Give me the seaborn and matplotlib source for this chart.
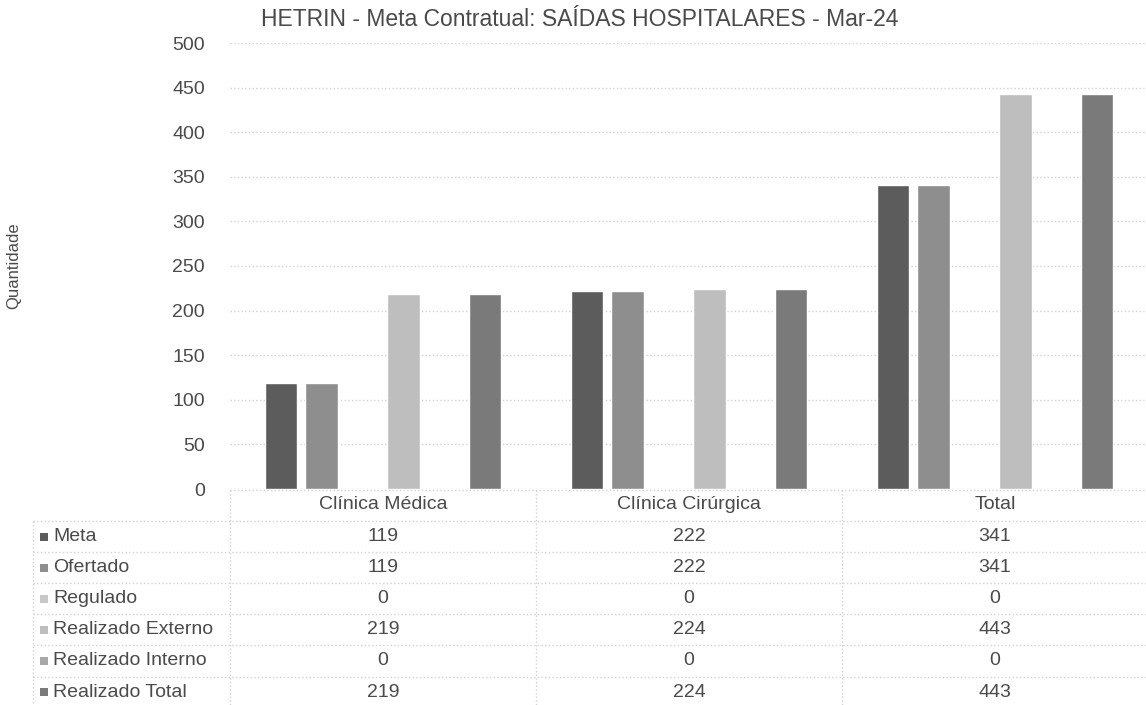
import matplotlib
matplotlib.use("Agg")
import matplotlib.pyplot as plt
from matplotlib.lines import Line2D
from matplotlib.patches import Rectangle
import seaborn as sns
import pandas as pd

categories = ["Clínica Médica", "Clínica Cirúrgica", "Total"]
series = ["Meta", "Ofertado", "Regulado", "Realizado Externo", "Realizado Interno", "Realizado Total"]
meta = [119, 222, 341]
ofertado = [119, 222, 341]
regulado = [0, 0, 0]
realizado_externo = [219, 224, 443]
realizado_interno = [0, 0, 0]
realizado_total = [219, 224, 443]
yticks = list(range(0, 501, 50))
title = "HETRIN - Meta Contratual: SAÍDAS HOSPITALARES - Mar-24"
ylabel = "Quantidade"

colors = ["#5c5c5c", "#8e8e8e", "#c8c8c8", "#bebebe", "#a8a8a8", "#7a7a7a"]
values = [meta, ofertado, regulado, realizado_externo, realizado_interno, realizado_total]

rows = []
for s, vals in zip(series, values):
    for c, v in zip(categories, vals):
        rows.append({"cat": c, "serie": s, "val": v})
df = pd.DataFrame(rows)

sns.set_style("white")
plt.rcParams["font.family"] = ["Liberation Sans", "DejaVu Sans"]
TXT = "#4a4a4a"
GRID = "#d2d2d2"

W, H = 1146, 705
fig = plt.figure(figsize=(W / 100, H / 100), dpi=100)
fig.patch.set_facecolor("white")

def fx(x):
    return x / W

def fy(y):
    return 1 - y / H

ax = fig.add_axes([fx(230), fy(489), 918 / W, (489 - 43) / H])
sns.barplot(data=df, x="cat", y="val", hue="serie", hue_order=series, order=categories,
            palette=colors, width=0.8, gap=0.2, legend=False, ax=ax, saturation=1)
ax.set_ylim(0, 500)
ax.set_xlim(-0.5, 2.5)
ax.set_yticks(yticks)
ax.set_yticklabels([str(t) for t in yticks], fontsize=14, color=TXT)
ax.tick_params(axis="y", length=0, pad=18)
ax.tick_params(axis="x", length=0, pad=5, labelsize=14, labelcolor=TXT)
ax.set_xlabel("")
ax.set_ylabel("")
for sp in ax.spines.values():
    sp.set_visible(False)
ax.yaxis.grid(True, color=GRID, linestyle=":", linewidth=1)
ax.set_axisbelow(True)

fig.text(fx(580), fy(19), title, ha="center", va="center", fontsize=16.5, color=TXT)
fig.text(fx(14), fy(266), ylabel, ha="center", va="center", rotation=90, fontsize=12, color=TXT)

# data table
fig.canvas.draw()
inv = fig.transFigure.inverted()
centers = [inv.transform(ax.transData.transform((i, 0)))[0] for i in range(len(categories))]
bounds = [inv.transform(ax.transData.transform((i - 0.5, 0)))[0] for i in range(len(categories) + 1)]

row_top = 521
row_h = 31.1
n = len(series)
table_bottom = row_top + n * row_h

def hline(x0, x1, y):
    fig.add_artist(Line2D([x0, x1], [fy(y), fy(y)], transform=fig.transFigure,
                          color=GRID, linestyle=":", linewidth=1))

def vline(x, y0, y1):
    fig.add_artist(Line2D([x, x], [fy(y0), fy(y1)], transform=fig.transFigure,
                          color=GRID, linestyle=":", linewidth=1))

hline(bounds[0], 1.0, 490)
for k in range(n + 1):
    hline(fx(33), 1.0, row_top + k * row_h)
vline(fx(33), row_top, table_bottom)
for b in bounds[:-1]:
    vline(b, 490, table_bottom)

for k, (s, vals, col) in enumerate(zip(series, values, colors)):
    yc = row_top + (k + 0.5) * row_h
    fig.add_artist(Rectangle((fx(40), fy(yc + 4)), 8 / W, 8 / H, transform=fig.transFigure,
                             facecolor=col, edgecolor="none"))
    fig.text(fx(53), fy(yc), s, ha="left", va="center", fontsize=14, color=TXT)
    for cx, v in zip(centers, vals):
        fig.text(cx, fy(yc), str(v), ha="center", va="center", fontsize=14, color=TXT)

fig.savefig("out.png", dpi=100, facecolor="white")
